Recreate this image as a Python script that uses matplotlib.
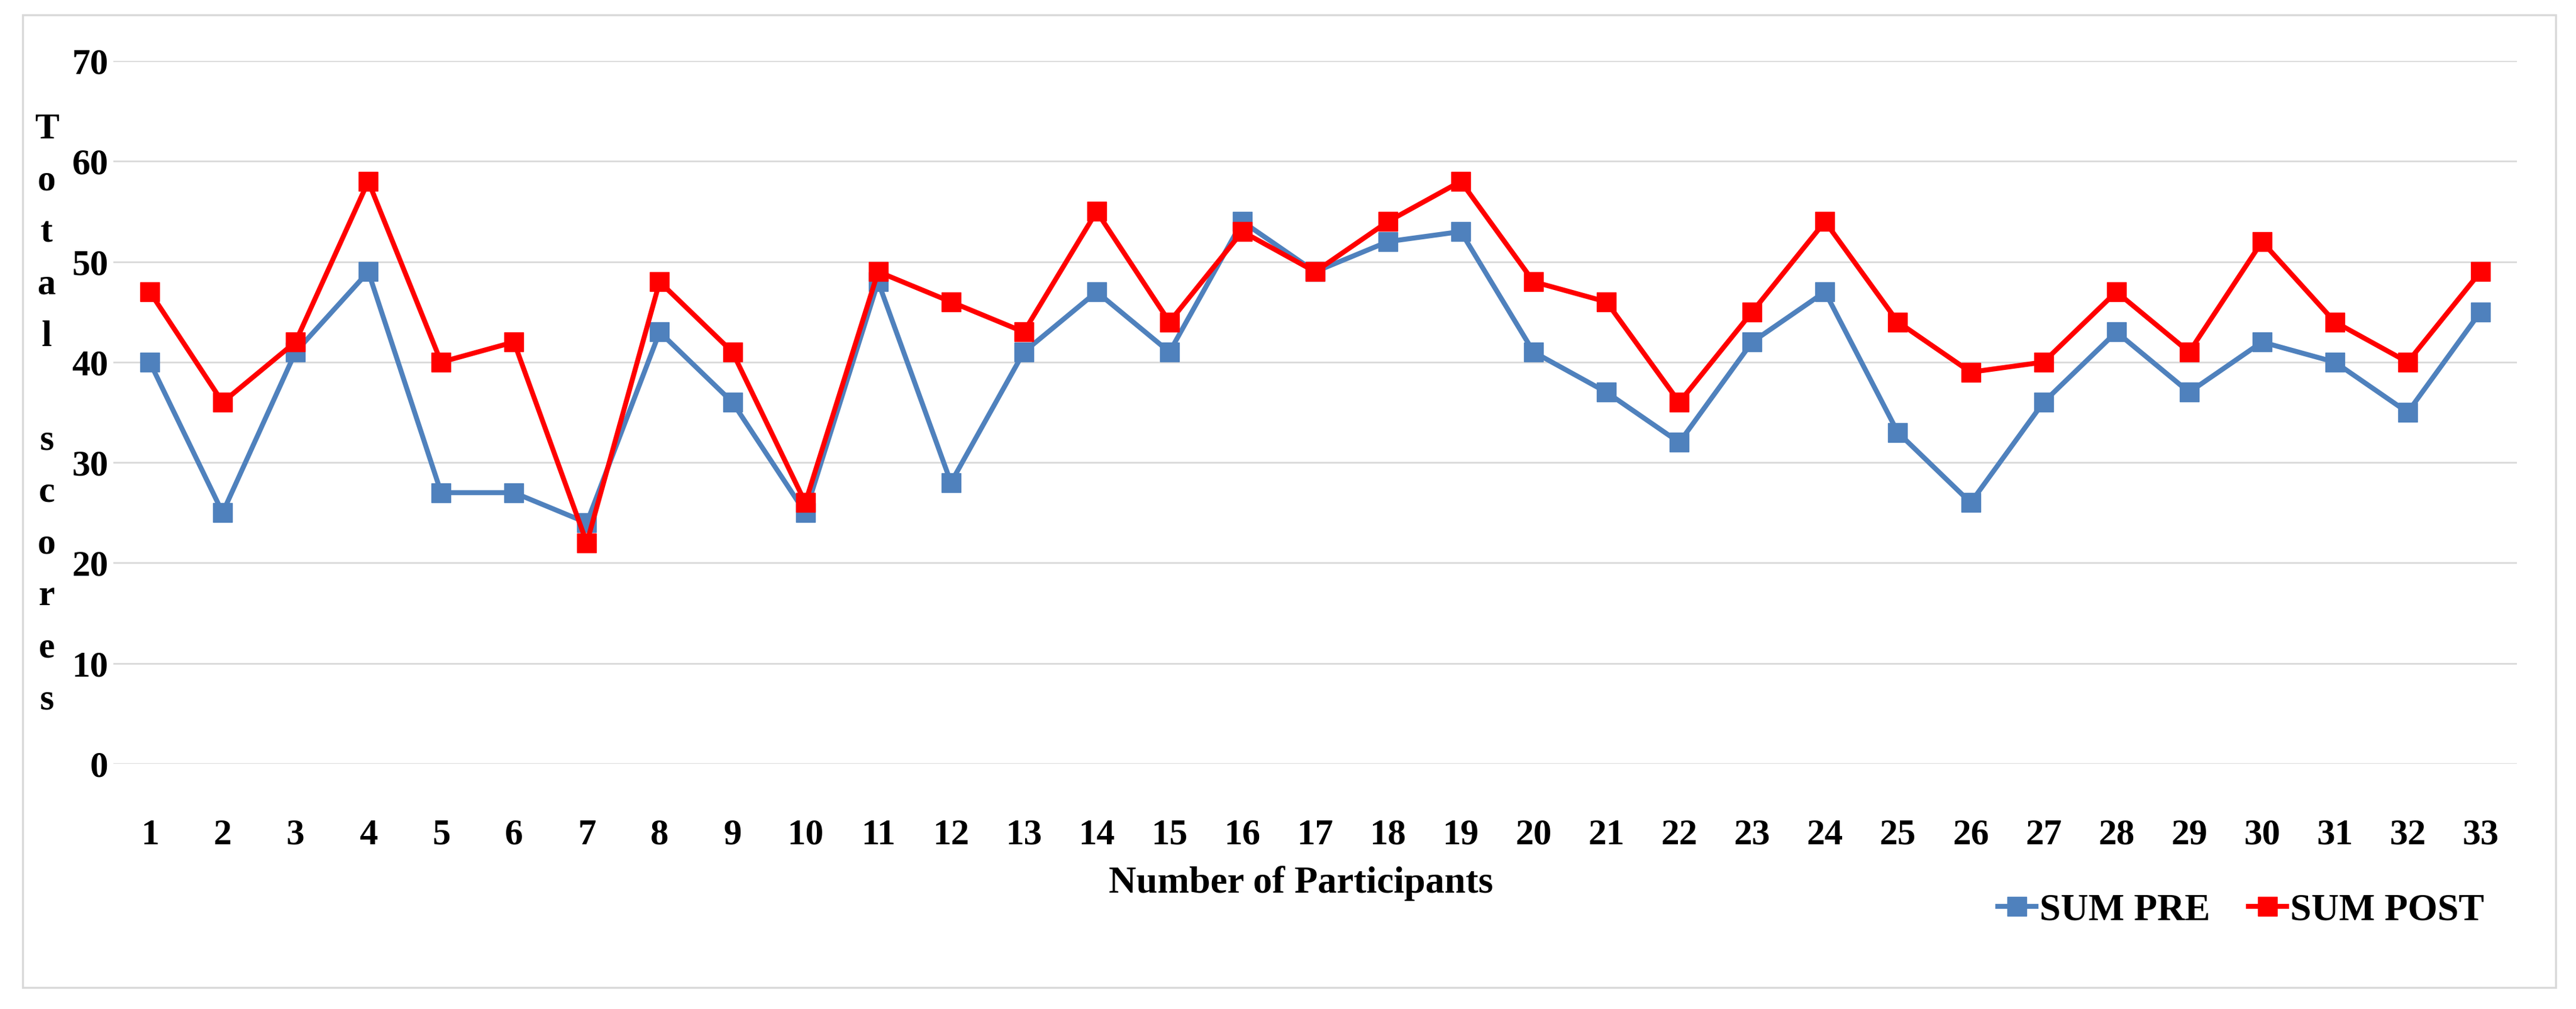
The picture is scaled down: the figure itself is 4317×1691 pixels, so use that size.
import matplotlib.pyplot as plt
import numpy as np
from matplotlib.patches import Rectangle

# data
participants = np.arange(1, 34)
sum_pre = [40, 25, 41, 49, 27, 27, 24, 43, 36, 25, 48, 28, 41, 47, 41, 54, 49,
           52, 53, 41, 37, 32, 42, 47, 33, 26, 36, 43, 37, 42, 40, 35, 45]
sum_post = [47, 36, 42, 58, 40, 42, 22, 48, 41, 26, 49, 46, 43, 55, 44, 53, 49,
            54, 58, 48, 46, 36, 45, 54, 44, 39, 40, 47, 41, 52, 44, 40, 49]
y_ticks = [0, 10, 20, 30, 40, 50, 60, 70]

W, H = 4317, 1691
plt.rcParams["font.family"] = ["Liberation Serif", "DejaVu Serif"]

fig = plt.figure(figsize=(W / 100, H / 100), dpi=100)
# outer chart frame
fig.patches.append(Rectangle((38 / W, 1 - 1655 / H), (4283 - 38) / W, (1655 - 25) / H,
                             transform=fig.transFigure, fill=False,
                             edgecolor="#D9D9D9", linewidth=2.5))

ax = fig.add_axes([190 / W, 1 - 1280 / H, (4218 - 190) / W, (1280 - 102) / H])
ax.plot(participants, sum_pre, color="#4F81BD", lw=6, marker="s", ms=23,
        label="SUM PRE", zorder=3)
ax.plot(participants, sum_post, color="#FF0000", lw=6, marker="s", ms=23,
        label="SUM POST", zorder=4)

ax.set_xlim(0.5, 33.5)
ax.set_ylim(0, 70)
ax.set_yticks(y_ticks)
ax.set_xticks(participants)
ax.grid(axis="y", color="#D9D9D9", lw=2)
ax.set_axisbelow(True)
for s in ax.spines.values():
    s.set_visible(False)
ax.tick_params(axis="both", length=0, labelsize=44)
ax.tick_params(axis="x", pad=66)
ax.tick_params(axis="y", pad=6)
for lab in ax.get_xticklabels() + ax.get_yticklabels():
    lab.set_fontweight("bold")

fig.text(2180 / W, 1 - 1480 / H, "Number of Participants", ha="center", va="center",
         fontsize=46, fontweight="bold")
fig.text(78 / W, 1 - 695 / H, "\n".join("Total scores"), ha="center", va="center",
         fontsize=44, fontweight="bold", linespacing=1.72, multialignment="center")

fig.legend(loc="center right", bbox_to_anchor=(4195 / W, 1 - 1526 / H), ncol=2,
           frameon=False, prop={"size": 46, "weight": "bold"}, handlelength=1.0,
           handletextpad=0.1, columnspacing=1.0, borderpad=0, markerscale=1.0)

fig.savefig("out.png", dpi=100)
